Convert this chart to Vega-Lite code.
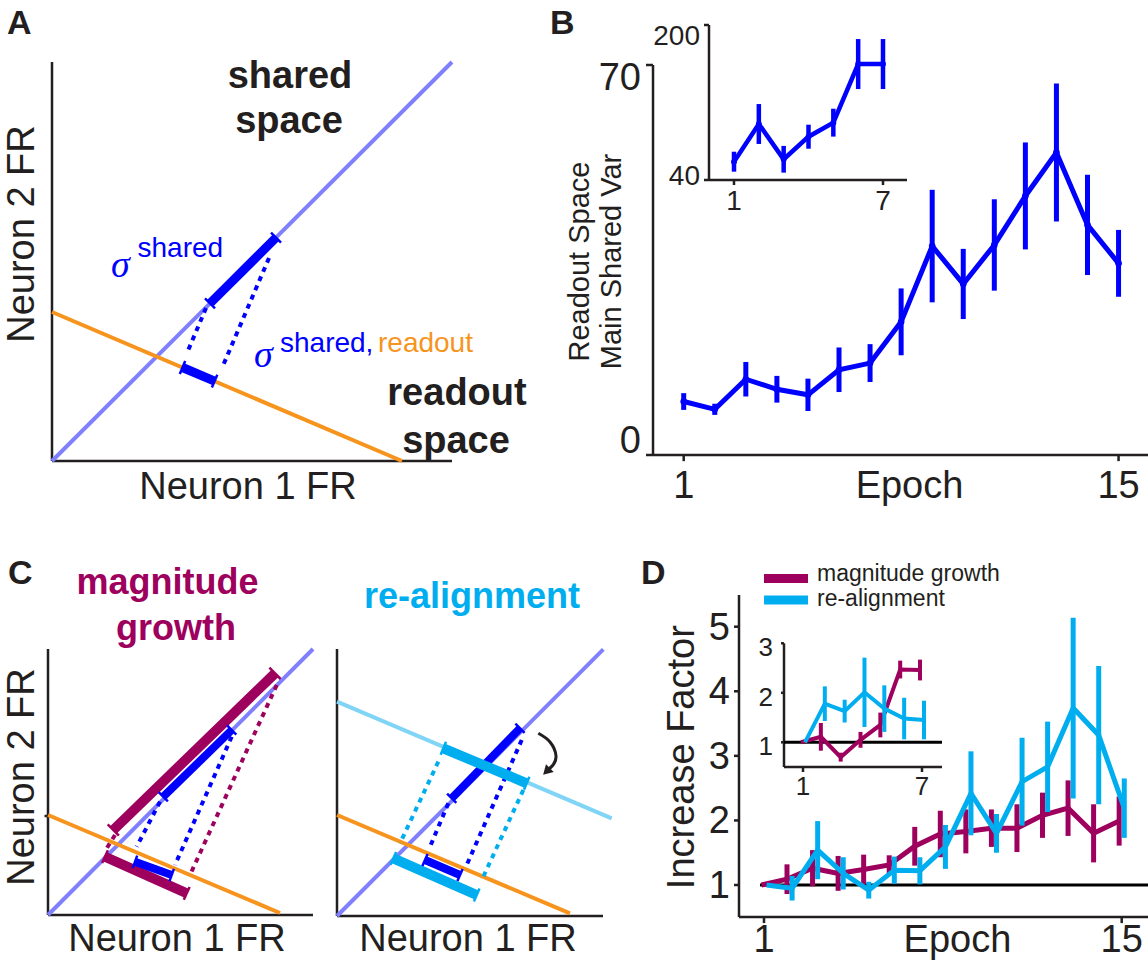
{
"$schema":"https://vega.github.io/schema/vega-lite/v6.json",
"width":1148,"height":960,"padding":0,"autosize":{"type":"none"},"background":"#ffffff",
"config":{"view":{"stroke":null},"text":{"font":"Liberation Sans","color":"#231f20"}},
"resolve":{"scale":{"x":"independent","y":"independent"}},
"datasets":{
"A":[
{"k":"axis","x":0,"y":0,"x2":0,"y2":3.99},
{"k":"axis","x":0,"y":0,"x2":4.0,"y2":0},
{"k":"diag","x":0,"y":0,"x2":4.0,"y2":3.99},
{"k":"orange","x":0,"y":1.49,"x2":3.5,"y2":0},
{"k":"dot","x":1.54,"y":1.53,"x2":1.35,"y2":1.08},
{"k":"dot","x":2.17,"y":2.03,"x2":1.70,"y2":0.93},
{"k":"thick","x":1.58,"y":1.576,"x2":2.24,"y2":2.234},
{"k":"thick","x":1.305,"y":0.935,"x2":1.626,"y2":0.798},
{"k":"cap","x":1.53,"y":1.626,"x2":1.63,"y2":1.526},
{"k":"cap","x":2.19,"y":2.284,"x2":2.29,"y2":2.184},
{"k":"cap","x":1.278,"y":0.871,"x2":1.332,"y2":0.999},
{"k":"cap","x":1.599,"y":0.734,"x2":1.653,"y2":0.862}
],
"A_txt":[
{"k":"bold","t":"shared","x":2.38,"y":3.73},
{"k":"bold","t":"space","x":2.37,"y":3.28},
{"k":"bold","t":"readout","x":4.05,"y":0.56},
{"k":"bold","t":"space","x":4.04,"y":0.08},
{"k":"sigma","t":"σ","x":0.59,"y":1.84},
{"k":"sigma","t":"σ","x":2.02,"y":0.94},
{"k":"supb","t":"shared","x":0.855,"y":2.04},
{"k":"supb","t":"shared,","x":2.28,"y":1.09},
{"k":"supo","t":"readout","x":3.26,"y":1.09},
{"k":"lab","t":"Neuron 1 FR","x":1.96,"y":-0.38},
{"k":"labr","t":"Neuron 2 FR","x":-0.18,"y":2.27},
{"k":"letter","t":"A","x":-0.45,"y":4.27},
{"k":"letter","t":"B","x":4.98,"y":4.27},
{"k":"letter","t":"C","x":-0.44,"y":-1.23},
{"k":"letter","t":"D","x":5.89,"y":-1.23}
],
"C1":[
{"k":"axis","x":0,"y":0,"x2":0,"y2":2.66},
{"k":"axis","x":0,"y":0,"x2":2.65,"y2":0},
{"k":"axis","x":-0.035,"y":0.99,"x2":0,"y2":0.99},
{"k":"diag","x":0,"y":0,"x2":2.65,"y2":2.66},
{"k":"orange","x":0,"y":1.0,"x2":2.32,"y2":0.02},
{"k":"dotm","x":0.67,"y":0.80,"x2":0.587,"y2":0.667},
{"k":"dotm","x":2.287,"y":2.30,"x2":1.42,"y2":0.40},
{"k":"dotb","x":1.12,"y":1.133,"x2":0.887,"y2":0.683},
{"k":"dotb","x":1.837,"y":1.783,"x2":1.27,"y2":0.50},
{"k":"mar","x":0.653,"y":0.85,"x2":2.27,"y2":2.417},
{"k":"mar","x":0.57,"y":0.583,"x2":1.387,"y2":0.217},
{"k":"blu","x":1.153,"y":1.183,"x2":1.837,"y2":1.85},
{"k":"blu","x":0.87,"y":0.533,"x2":1.237,"y2":0.40},
{"k":"capm","x":0.597,"y":0.907,"x2":0.709,"y2":0.793},
{"k":"capm","x":2.214,"y":2.474,"x2":2.326,"y2":2.36},
{"k":"capm","x":0.541,"y":0.519,"x2":0.599,"y2":0.647},
{"k":"capm","x":1.358,"y":0.153,"x2":1.416,"y2":0.281},
{"k":"capb","x":1.107,"y":1.229,"x2":1.199,"y2":1.137},
{"k":"capb","x":1.791,"y":1.896,"x2":1.883,"y2":1.804},
{"k":"capb","x":0.848,"y":0.472,"x2":0.892,"y2":0.594},
{"k":"capb","x":1.215,"y":0.339,"x2":1.259,"y2":0.461}
],
"C1_txt":[
{"k":"title","t":"magnitude","x":1.195,"y":3.21},
{"k":"title","t":"growth","x":1.28,"y":2.75},
{"k":"lab","t":"Neuron 1 FR","x":1.29,"y":-0.36},
{"k":"labr","t":"Neuron 2 FR","x":-0.14,"y":1.38}
],
"C2":[
{"k":"axis","x":0,"y":0,"x2":0,"y2":2.67},
{"k":"axis","x":0,"y":0,"x2":2.66,"y2":0},
{"k":"diag","x":0,"y":0,"x2":2.663,"y2":2.667},
{"k":"orange","x":0,"y":1.01,"x2":2.33,"y2":0.027},
{"k":"light","x":0,"y":2.143,"x2":2.747,"y2":0.977},
{"k":"dotc","x":1.013,"y":1.543,"x2":0.63,"y2":0.727},
{"k":"dotc","x":1.863,"y":1.26,"x2":1.463,"y2":0.393},
{"k":"dotb","x":1.113,"y":1.127,"x2":0.93,"y2":0.693},
{"k":"dotb","x":1.847,"y":1.76,"x2":1.297,"y2":0.51},
{"k":"blu1","x":1.147,"y":1.177,"x2":1.83,"y2":1.877},
{"k":"cya","x":1.063,"y":1.677,"x2":1.897,"y2":1.327},
{"k":"cya","x":0.563,"y":0.577,"x2":1.397,"y2":0.21},
{"k":"blu2","x":0.88,"y":0.56,"x2":1.23,"y2":0.41},
{"k":"capc","x":1.036,"y":1.612,"x2":1.09,"y2":1.742},
{"k":"capc","x":1.87,"y":1.262,"x2":1.924,"y2":1.392},
{"k":"capc","x":0.535,"y":0.513,"x2":0.591,"y2":0.641},
{"k":"capc","x":1.369,"y":0.146,"x2":1.425,"y2":0.274},
{"k":"capb","x":1.101,"y":1.223,"x2":1.193,"y2":1.131},
{"k":"capb","x":1.784,"y":1.923,"x2":1.876,"y2":1.831},
{"k":"capb","x":0.854,"y":0.5,"x2":0.906,"y2":0.62},
{"k":"capb","x":1.204,"y":0.35,"x2":1.256,"y2":0.47}
],
"C2_txt":[
{"k":"title","t":"re-alignment","x":1.35,"y":3.08},
{"k":"lab","t":"Neuron 1 FR","x":1.31,"y":-0.35}
],
"C2_arrow":[
{"o":1,"x":2.013,"y":1.827},
{"o":2,"x":2.13,"y":1.74},
{"o":3,"x":2.19,"y":1.60},
{"o":4,"x":2.16,"y":1.51},
{"o":5,"x":2.12,"y":1.47}
],
"B":[
{"epoch":1,"v":9.6,"e":1.5},{"epoch":2,"v":8.2,"e":1.0},{"epoch":3,"v":13.6,"e":3.1},
{"epoch":4,"v":11.8,"e":2.4},{"epoch":5,"v":10.8,"e":2.9},{"epoch":6,"v":15.3,"e":4.0},
{"epoch":7,"v":16.5,"e":3.4},{"epoch":8,"v":23.9,"e":6.0},{"epoch":9,"v":37.5,"e":10.1},
{"epoch":10,"v":30.7,"e":6.3},{"epoch":11,"v":37.7,"e":8.2},{"epoch":12,"v":46.5,"e":9.6},
{"epoch":13,"v":54.3,"e":12.4},{"epoch":14,"v":41.3,"e":9.0},{"epoch":15,"v":34.4,"e":6.0}
],
"B_ax":[
{"epoch":0.012,"v":0,"epoch2":0.012,"v2":70},
{"epoch":0.012,"v":0,"epoch2":15.948,"v2":0},
{"epoch":-0.214,"v":0,"epoch2":0.012,"v2":0},
{"epoch":-0.214,"v":70,"epoch2":0.012,"v2":70},
{"epoch":1,"v":0,"epoch2":1,"v2":-1.1},
{"epoch":15,"v":0,"epoch2":15,"v2":-1.1}
],
"B_lab":[
{"k":"yl","epoch":-0.375,"v":65.5,"label":"70"},
{"k":"yl","epoch":-0.375,"v":0.3,"label":"0"},
{"k":"xl","epoch":1,"v":-7.72,"label":"1"},
{"k":"xl","epoch":15,"v":-7.72,"label":"15"},
{"k":"xl","epoch":8.27,"v":-7.72,"label":"Epoch"},
{"k":"yt","epoch":-2.049,"v":34.73,"label":"Readout Space"},
{"k":"yt","epoch":-1.019,"v":34.73,"label":"Main Shared Var"}
],
"Bin":[
{"epoch":1,"v":58.9,"e":10.3},{"epoch":2,"v":97.8,"e":20.6},{"epoch":3,"v":61.4,"e":13.8},
{"epoch":4,"v":84.7,"e":12.4},{"epoch":5,"v":99.2,"e":14.4},{"epoch":6,"v":159.7,"e":25.8},
{"epoch":7,"v":159.7,"e":25.8}
],
"Bin_ax":[
{"epoch":-0.007,"v":40,"epoch2":-0.007,"v2":200},
{"epoch":-0.007,"v":40,"epoch2":7.966,"v2":40},
{"epoch":-0.208,"v":40,"epoch2":-0.007,"v2":40},
{"epoch":-0.208,"v":200,"epoch2":-0.007,"v2":200},
{"epoch":1,"v":40,"epoch2":1,"v2":34.8},
{"epoch":7,"v":40,"epoch2":7,"v2":34.8}
],
"Bin_lab":[
{"k":"yl","epoch":-0.37,"v":179.4,"label":"200"},
{"k":"yl","epoch":-0.37,"v":34.8,"label":"40"},
{"k":"xl","epoch":1,"v":9.0,"label":"1"},
{"k":"xl","epoch":7,"v":9.0,"label":"7"}
],
"D":[
{"epoch":1,"s":"magnitude growth","v":1.0,"e":0},{"epoch":2,"s":"magnitude growth","v":1.09,"e":0.23},
{"epoch":3,"s":"magnitude growth","v":1.26,"e":0.28},{"epoch":4,"s":"magnitude growth","v":1.18,"e":0.27},
{"epoch":5,"s":"magnitude growth","v":1.24,"e":0.23},{"epoch":6,"s":"magnitude growth","v":1.31,"e":0.15},
{"epoch":7,"s":"magnitude growth","v":1.60,"e":0.30},{"epoch":8,"s":"magnitude growth","v":1.79,"e":0.36},
{"epoch":9,"s":"magnitude growth","v":1.83,"e":0.34},{"epoch":10,"s":"magnitude growth","v":1.88,"e":0.29},
{"epoch":11,"s":"magnitude growth","v":1.88,"e":0.37},{"epoch":12,"s":"magnitude growth","v":2.08,"e":0.35},
{"epoch":13,"s":"magnitude growth","v":2.19,"e":0.43},{"epoch":14,"s":"magnitude growth","v":1.80,"e":0.45},
{"epoch":15,"s":"magnitude growth","v":1.99,"e":0.38},
{"epoch":1,"s":"re-alignment","v":1.0,"e":0},{"epoch":2,"s":"re-alignment","v":0.95,"e":0.19},
{"epoch":3,"s":"re-alignment","v":1.54,"e":0.45},{"epoch":4,"s":"re-alignment","v":1.18,"e":0.25},
{"epoch":5,"s":"re-alignment","v":0.92,"e":0.13},{"epoch":6,"s":"re-alignment","v":1.23,"e":0.21},
{"epoch":7,"s":"re-alignment","v":1.22,"e":0.21},{"epoch":8,"s":"re-alignment","v":1.59,"e":0.34},
{"epoch":9,"s":"re-alignment","v":2.42,"e":0.65},{"epoch":10,"s":"re-alignment","v":1.80,"e":0.30},
{"epoch":11,"s":"re-alignment","v":2.60,"e":0.68},{"epoch":12,"s":"re-alignment","v":2.83,"e":0.70},
{"epoch":13,"s":"re-alignment","v":3.74,"e":1.40},{"epoch":14,"s":"re-alignment","v":3.32,"e":1.07},
{"epoch":15,"s":"re-alignment","v":2.19,"e":0.46}
],
"D_ax":[
{"k":"ax","ex":0.0215,"v":0.504,"ex2":0.0215,"v2":5.491},
{"k":"ax","ex":0.0215,"v":0.504,"ex2":16.029,"v2":0.504},
{"k":"ax","ex":-0.174,"v":1,"ex2":0.0215,"v2":1},
{"k":"ax","ex":-0.174,"v":2,"ex2":0.0215,"v2":2},
{"k":"ax","ex":-0.174,"v":3,"ex2":0.0215,"v2":3},
{"k":"ax","ex":-0.174,"v":4,"ex2":0.0215,"v2":4},
{"k":"ax","ex":-0.174,"v":5,"ex2":0.0215,"v2":5},
{"k":"ax","ex":1,"v":0.504,"ex2":1,"v2":0.41},
{"k":"ax","ex":15,"v":0.504,"ex2":15,"v2":0.41},
{"k":"ref","ex":0.843,"v":1,"ex2":16.029,"v2":1},
{"k":"legm","ex":1.0,"v":5.746,"ex2":2.722,"v2":5.746},
{"k":"legr","ex":1.0,"v":5.413,"ex2":2.722,"v2":5.413}
],
"D_lab":[
{"k":"yl","ex":-0.331,"v":1,"label":"1"},
{"k":"yl","ex":-0.331,"v":2,"label":"2"},
{"k":"yl","ex":-0.331,"v":3,"label":"3"},
{"k":"yl","ex":-0.331,"v":4,"label":"4"},
{"k":"yl","ex":-0.331,"v":5,"label":"5"},
{"k":"xl","ex":1,"v":-0.0375,"label":"1"},
{"k":"xl","ex":15,"v":-0.0375,"label":"15"},
{"k":"xl","ex":8.57,"v":-0.0375,"label":"Epoch"},
{"k":"yt","ex":-1.74,"v":2.98,"label":"Increase Factor"},
{"k":"leg","ex":3.074,"v":5.70,"label":"magnitude growth"},
{"k":"leg","ex":3.074,"v":5.328,"label":"re-alignment"}
],
"Din":[
{"epoch":1,"s":"magnitude growth","v":1.0,"e":0},{"epoch":2,"s":"magnitude growth","v":1.11,"e":0.28},
{"epoch":3,"s":"magnitude growth","v":0.70,"e":0.09},{"epoch":4,"s":"magnitude growth","v":1.05,"e":0.16},
{"epoch":5,"s":"magnitude growth","v":1.35,"e":0.25},{"epoch":6,"s":"magnitude growth","v":2.47,"e":0.18},
{"epoch":7,"s":"magnitude growth","v":2.46,"e":0.21},
{"epoch":1,"s":"re-alignment","v":1.0,"e":0},{"epoch":2,"s":"re-alignment","v":1.78,"e":0.35},
{"epoch":3,"s":"re-alignment","v":1.63,"e":0.23},{"epoch":4,"s":"re-alignment","v":2.01,"e":0.70},
{"epoch":5,"s":"re-alignment","v":1.68,"e":0.47},{"epoch":6,"s":"re-alignment","v":1.48,"e":0.42},
{"epoch":7,"s":"re-alignment","v":1.45,"e":0.39}
],
"Din_ax":[
{"k":"ax","ex":0.042,"v":0.5,"ex2":0.042,"v2":3.0},
{"k":"ax","ex":0.042,"v":0.5,"ex2":8.008,"v2":0.5},
{"k":"ax","ex":-0.109,"v":1,"ex2":0.042,"v2":1},
{"k":"ax","ex":-0.109,"v":2,"ex2":0.042,"v2":2},
{"k":"ax","ex":-0.109,"v":3,"ex2":0.042,"v2":3},
{"k":"ax","ex":1,"v":0.5,"ex2":1,"v2":0.4},
{"k":"ax","ex":7,"v":0.5,"ex2":7,"v2":0.4},
{"k":"ref","ex":0.042,"v":1,"ex2":8.008,"v2":1}
],
"Din_lab":[
{"k":"yl","ex":-0.513,"v":1,"label":"1"},
{"k":"yl","ex":-0.513,"v":2,"label":"2"},
{"k":"yl","ex":-0.513,"v":3,"label":"3"},
{"k":"xl","ex":1,"v":-0.065,"label":"1"},
{"k":"xl","ex":7,"v":-0.065,"label":"7"}
]
},
"layer":[
{
"encoding":{
"x":{"field":"x","type":"quantitative","scale":{"domain":[-0.52,10.96],"nice":false,"zero":false},"axis":null},
"y":{"field":"y","type":"quantitative","scale":{"domain":[-4.99,4.61],"nice":false,"zero":false},"axis":null}
},
"layer":[
{"data":{"name":"A"},"transform":[{"filter":"datum.k==='axis'"}],"mark":{"type":"rule","color":"#231f20","strokeWidth":2.5},"encoding":{"x2":{"field":"x2"},"y2":{"field":"y2"}}},
{"data":{"name":"A"},"transform":[{"filter":"datum.k==='diag'"}],"mark":{"type":"rule","color":"#8080ff","strokeWidth":4},"encoding":{"x2":{"field":"x2"},"y2":{"field":"y2"}}},
{"data":{"name":"A"},"transform":[{"filter":"datum.k==='orange'"}],"mark":{"type":"rule","color":"#f7941d","strokeWidth":4},"encoding":{"x2":{"field":"x2"},"y2":{"field":"y2"}}},
{"data":{"name":"A"},"transform":[{"filter":"datum.k==='dot'"}],"mark":{"type":"rule","color":"#0000ff","strokeWidth":4,"strokeDash":[5,5]},"encoding":{"x2":{"field":"x2"},"y2":{"field":"y2"}}},
{"data":{"name":"A"},"transform":[{"filter":"datum.k==='thick'"}],"mark":{"type":"rule","color":"#0000ff","strokeWidth":9},"encoding":{"x2":{"field":"x2"},"y2":{"field":"y2"}}},
{"data":{"name":"A"},"transform":[{"filter":"datum.k==='cap'"}],"mark":{"type":"rule","color":"#0000ff","strokeWidth":2.5},"encoding":{"x2":{"field":"x2"},"y2":{"field":"y2"}}},
{"data":{"name":"A_txt"},"transform":[{"filter":"datum.k==='bold'"}],"mark":{"type":"text","fontSize":38,"fontWeight":"bold","align":"center","baseline":"alphabetic","color":"#231f20"},"encoding":{"text":{"field":"t"}}},
{"data":{"name":"A_txt"},"transform":[{"filter":"datum.k==='sigma'"}],"mark":{"type":"text","fontSize":38,"font":"Liberation Serif","fontStyle":"italic","align":"left","baseline":"alphabetic","color":"#0000ff"},"encoding":{"text":{"field":"t"}}},
{"data":{"name":"A_txt"},"transform":[{"filter":"datum.k==='supb'"}],"mark":{"type":"text","fontSize":28,"align":"left","baseline":"alphabetic","color":"#0000ff"},"encoding":{"text":{"field":"t"}}},
{"data":{"name":"A_txt"},"transform":[{"filter":"datum.k==='supo'"}],"mark":{"type":"text","fontSize":28,"align":"left","baseline":"alphabetic","color":"#f7941d"},"encoding":{"text":{"field":"t"}}},
{"data":{"name":"A_txt"},"transform":[{"filter":"datum.k==='lab'"}],"mark":{"type":"text","fontSize":38,"align":"center","baseline":"alphabetic","color":"#231f20"},"encoding":{"text":{"field":"t"}}},
{"data":{"name":"A_txt"},"transform":[{"filter":"datum.k==='labr'"}],"mark":{"type":"text","fontSize":38,"align":"center","baseline":"alphabetic","angle":270,"color":"#231f20"},"encoding":{"text":{"field":"t"}}},
{"data":{"name":"A_txt"},"transform":[{"filter":"datum.k==='letter'"}],"mark":{"type":"text","fontSize":34,"fontWeight":"bold","align":"left","baseline":"alphabetic","color":"#231f20"},"encoding":{"text":{"field":"t"}}}
]
},
{
"encoding":{
"x":{"field":"x","type":"quantitative","scale":{"domain":[-0.48,11.0],"nice":false,"zero":false},"axis":null},
"y":{"field":"y","type":"quantitative","scale":{"domain":[-0.45,9.15],"nice":false,"zero":false},"axis":null}
},
"layer":[
{"data":{"name":"C1"},"transform":[{"filter":"datum.k==='axis'"}],"mark":{"type":"rule","color":"#231f20","strokeWidth":2.5},"encoding":{"x2":{"field":"x2"},"y2":{"field":"y2"}}},
{"data":{"name":"C1"},"transform":[{"filter":"datum.k==='diag'"}],"mark":{"type":"rule","color":"#8080ff","strokeWidth":4},"encoding":{"x2":{"field":"x2"},"y2":{"field":"y2"}}},
{"data":{"name":"C1"},"transform":[{"filter":"datum.k==='orange'"}],"mark":{"type":"rule","color":"#f7941d","strokeWidth":4},"encoding":{"x2":{"field":"x2"},"y2":{"field":"y2"}}},
{"data":{"name":"C1"},"transform":[{"filter":"datum.k==='dotm'"}],"mark":{"type":"rule","color":"#9e005d","strokeWidth":4,"strokeDash":[5,5]},"encoding":{"x2":{"field":"x2"},"y2":{"field":"y2"}}},
{"data":{"name":"C1"},"transform":[{"filter":"datum.k==='dotb'"}],"mark":{"type":"rule","color":"#0000ff","strokeWidth":4,"strokeDash":[5,5]},"encoding":{"x2":{"field":"x2"},"y2":{"field":"y2"}}},
{"data":{"name":"C1"},"transform":[{"filter":"datum.k==='mar'"}],"mark":{"type":"rule","color":"#9e005d","strokeWidth":10},"encoding":{"x2":{"field":"x2"},"y2":{"field":"y2"}}},
{"data":{"name":"C1"},"transform":[{"filter":"datum.k==='blu'"}],"mark":{"type":"rule","color":"#0000ff","strokeWidth":8},"encoding":{"x2":{"field":"x2"},"y2":{"field":"y2"}}},
{"data":{"name":"C1"},"transform":[{"filter":"datum.k==='capm'"}],"mark":{"type":"rule","color":"#9e005d","strokeWidth":2.5},"encoding":{"x2":{"field":"x2"},"y2":{"field":"y2"}}},
{"data":{"name":"C1"},"transform":[{"filter":"datum.k==='capb'"}],"mark":{"type":"rule","color":"#0000ff","strokeWidth":2.5},"encoding":{"x2":{"field":"x2"},"y2":{"field":"y2"}}},
{"data":{"name":"C1_txt"},"transform":[{"filter":"datum.k==='title'"}],"mark":{"type":"text","fontSize":36,"fontWeight":"bold","align":"center","baseline":"alphabetic","color":"#9e005d"},"encoding":{"text":{"field":"t"}}},
{"data":{"name":"C1_txt"},"transform":[{"filter":"datum.k==='lab'"}],"mark":{"type":"text","fontSize":38,"align":"center","baseline":"alphabetic","color":"#231f20"},"encoding":{"text":{"field":"t"}}},
{"data":{"name":"C1_txt"},"transform":[{"filter":"datum.k==='labr'"}],"mark":{"type":"text","fontSize":38,"align":"center","baseline":"alphabetic","angle":270,"color":"#231f20"},"encoding":{"text":{"field":"t"}}}
]
},
{
"encoding":{
"x":{"field":"x","type":"quantitative","scale":{"domain":[-3.37,8.11],"nice":false,"zero":false},"axis":null},
"y":{"field":"y","type":"quantitative","scale":{"domain":[-0.44,9.16],"nice":false,"zero":false},"axis":null}
},
"layer":[
{"data":{"name":"C2"},"transform":[{"filter":"datum.k==='axis'"}],"mark":{"type":"rule","color":"#231f20","strokeWidth":2.5},"encoding":{"x2":{"field":"x2"},"y2":{"field":"y2"}}},
{"data":{"name":"C2"},"transform":[{"filter":"datum.k==='diag'"}],"mark":{"type":"rule","color":"#8080ff","strokeWidth":4},"encoding":{"x2":{"field":"x2"},"y2":{"field":"y2"}}},
{"data":{"name":"C2"},"transform":[{"filter":"datum.k==='orange'"}],"mark":{"type":"rule","color":"#f7941d","strokeWidth":4},"encoding":{"x2":{"field":"x2"},"y2":{"field":"y2"}}},
{"data":{"name":"C2"},"transform":[{"filter":"datum.k==='light'"}],"mark":{"type":"rule","color":"#80d4f6","strokeWidth":4},"encoding":{"x2":{"field":"x2"},"y2":{"field":"y2"}}},
{"data":{"name":"C2"},"transform":[{"filter":"datum.k==='dotc'"}],"mark":{"type":"rule","color":"#00aeef","strokeWidth":4,"strokeDash":[5,5]},"encoding":{"x2":{"field":"x2"},"y2":{"field":"y2"}}},
{"data":{"name":"C2"},"transform":[{"filter":"datum.k==='dotb'"}],"mark":{"type":"rule","color":"#0000ff","strokeWidth":4,"strokeDash":[5,5]},"encoding":{"x2":{"field":"x2"},"y2":{"field":"y2"}}},
{"data":{"name":"C2"},"transform":[{"filter":"datum.k==='blu1'"}],"mark":{"type":"rule","color":"#0000ff","strokeWidth":8},"encoding":{"x2":{"field":"x2"},"y2":{"field":"y2"}}},
{"data":{"name":"C2"},"transform":[{"filter":"datum.k==='cya'"}],"mark":{"type":"rule","color":"#00aeef","strokeWidth":10},"encoding":{"x2":{"field":"x2"},"y2":{"field":"y2"}}},
{"data":{"name":"C2"},"transform":[{"filter":"datum.k==='blu2'"}],"mark":{"type":"rule","color":"#0000ff","strokeWidth":8},"encoding":{"x2":{"field":"x2"},"y2":{"field":"y2"}}},
{"data":{"name":"C2"},"transform":[{"filter":"datum.k==='capc'"}],"mark":{"type":"rule","color":"#00aeef","strokeWidth":2.5},"encoding":{"x2":{"field":"x2"},"y2":{"field":"y2"}}},
{"data":{"name":"C2"},"transform":[{"filter":"datum.k==='capb'"}],"mark":{"type":"rule","color":"#0000ff","strokeWidth":2.5},"encoding":{"x2":{"field":"x2"},"y2":{"field":"y2"}}},
{"data":{"name":"C2_arrow"},"mark":{"type":"line","color":"#231f20","strokeWidth":3,"interpolate":"natural"},"encoding":{"order":{"field":"o","type":"quantitative"}}},
{"data":{"values":[{"x":2.095,"y":1.445}]},"mark":{"type":"point","shape":"triangle-down","filled":true,"size":120,"angle":45,"color":"#231f20","opacity":1}},
{"data":{"name":"C2_txt"},"transform":[{"filter":"datum.k==='title'"}],"mark":{"type":"text","fontSize":36,"fontWeight":"bold","align":"center","baseline":"alphabetic","color":"#00aeef"},"encoding":{"text":{"field":"t"}}},
{"data":{"name":"C2_txt"},"transform":[{"filter":"datum.k==='lab'"}],"mark":{"type":"text","fontSize":38,"align":"center","baseline":"alphabetic","color":"#231f20"},"encoding":{"text":{"field":"t"}}}
]
},
{
"encoding":{
"x":{"field":"epoch","type":"quantitative","scale":{"domain":[-21.012,15.948],"nice":false,"zero":false},"axis":null},
"y":{"field":"v","type":"quantitative","scale":{"domain":[-90.641,81.667],"nice":false,"zero":false},"axis":null}
},
"layer":[
{"data":{"name":"B_ax"},"mark":{"type":"rule","color":"#231f20","strokeWidth":2.5},"encoding":{"x2":{"field":"epoch2"},"y2":{"field":"v2"}}},
{"data":{"name":"B_lab"},"transform":[{"filter":"datum.k==='yl'"}],"mark":{"type":"text","fontSize":38,"align":"right","baseline":"alphabetic"},"encoding":{"text":{"field":"label"}}},
{"data":{"name":"B_lab"},"transform":[{"filter":"datum.k==='xl'"}],"mark":{"type":"text","fontSize":38,"align":"center","baseline":"alphabetic"},"encoding":{"text":{"field":"label"}}},
{"data":{"name":"B_lab"},"transform":[{"filter":"datum.k==='yt'"}],"mark":{"type":"text","fontSize":29,"align":"center","baseline":"alphabetic","angle":270},"encoding":{"text":{"field":"label"}}},
{"data":{"name":"B"},"mark":{"type":"errorbar","ticks":false,"thickness":5,"color":"#0000ff"},"encoding":{"y":{"field":"v","type":"quantitative"},"yError":{"field":"e"}}},
{"data":{"name":"B"},"mark":{"type":"line","color":"#0000ff","strokeWidth":5}},
{"data":{"name":"B"},"mark":{"type":"point","filled":true,"size":45,"color":"#0000ff","opacity":1}}
]
},
{
"encoding":{
"x":{"field":"epoch","type":"quantitative","scale":{"domain":[-28.557,17.671],"nice":false,"zero":false},"axis":null},
"y":{"field":"v","type":"quantitative","scale":{"domain":[-765.16,225.81],"nice":false,"zero":false},"axis":null}
},
"layer":[
{"data":{"name":"Bin_ax"},"mark":{"type":"rule","color":"#231f20","strokeWidth":2.5},"encoding":{"x2":{"field":"epoch2"},"y2":{"field":"v2"}}},
{"data":{"name":"Bin_lab"},"transform":[{"filter":"datum.k==='yl'"}],"mark":{"type":"text","fontSize":28,"align":"right","baseline":"alphabetic"},"encoding":{"text":{"field":"label"}}},
{"data":{"name":"Bin_lab"},"transform":[{"filter":"datum.k==='xl'"}],"mark":{"type":"text","fontSize":28,"align":"center","baseline":"alphabetic"},"encoding":{"text":{"field":"label"}}},
{"data":{"name":"Bin"},"mark":{"type":"errorbar","ticks":false,"thickness":4.5,"color":"#0000ff"},"encoding":{"y":{"field":"v","type":"quantitative"},"yError":{"field":"e"}}},
{"data":{"name":"Bin"},"mark":{"type":"line","color":"#0000ff","strokeWidth":4.5}},
{"data":{"name":"Bin"},"mark":{"type":"point","filled":true,"size":35,"color":"#0000ff","opacity":1}}
]
},
{
"encoding":{
"x":{"field":"ex","type":"quantitative","scale":{"domain":[-28.902,16.029],"nice":false,"zero":false},"axis":null},
"y":{"field":"v","type":"quantitative","scale":{"domain":[-0.1614,14.705],"nice":false,"zero":false},"axis":null}
},
"layer":[
{"data":{"name":"D_ax"},"transform":[{"filter":"datum.k==='ax'"}],"mark":{"type":"rule","color":"#231f20","strokeWidth":2.5},"encoding":{"x2":{"field":"ex2"},"y2":{"field":"v2"}}},
{"data":{"name":"D_ax"},"transform":[{"filter":"datum.k==='ref'"}],"mark":{"type":"rule","color":"#000000","strokeWidth":3},"encoding":{"x2":{"field":"ex2"},"y2":{"field":"v2"}}},
{"data":{"name":"D_ax"},"transform":[{"filter":"datum.k==='legm'"}],"mark":{"type":"rule","color":"#9e005d","strokeWidth":9},"encoding":{"x2":{"field":"ex2"},"y2":{"field":"v2"}}},
{"data":{"name":"D_ax"},"transform":[{"filter":"datum.k==='legr'"}],"mark":{"type":"rule","color":"#00aeef","strokeWidth":9},"encoding":{"x2":{"field":"ex2"},"y2":{"field":"v2"}}},
{"data":{"name":"D_lab"},"transform":[{"filter":"datum.k==='yl'"}],"mark":{"type":"text","fontSize":38,"align":"right","baseline":"alphabetic","dy":13},"encoding":{"text":{"field":"label"}}},
{"data":{"name":"D_lab"},"transform":[{"filter":"datum.k==='xl'"}],"mark":{"type":"text","fontSize":38,"align":"center","baseline":"alphabetic"},"encoding":{"text":{"field":"label"}}},
{"data":{"name":"D_lab"},"transform":[{"filter":"datum.k==='yt'"}],"mark":{"type":"text","fontSize":38,"align":"center","baseline":"alphabetic","angle":270},"encoding":{"text":{"field":"label"}}},
{"data":{"name":"D_lab"},"transform":[{"filter":"datum.k==='leg'"}],"mark":{"type":"text","fontSize":23,"align":"left","baseline":"alphabetic"},"encoding":{"text":{"field":"label"}}},
{"data":{"name":"D"},"transform":[{"filter":"datum.s==='magnitude growth'"},{"calculate":"datum.epoch-0.1","as":"ex"}],"mark":{"type":"errorbar","ticks":false,"thickness":5,"color":"#9e005d"},"encoding":{"y":{"field":"v","type":"quantitative"},"yError":{"field":"e"}}},
{"data":{"name":"D"},"transform":[{"filter":"datum.s==='magnitude growth'"},{"calculate":"datum.epoch-0.1","as":"ex"}],"mark":{"type":"line","color":"#9e005d","strokeWidth":5}},
{"data":{"name":"D"},"transform":[{"filter":"datum.s==='re-alignment'"},{"calculate":"datum.epoch+0.1","as":"ex"}],"mark":{"type":"errorbar","ticks":false,"thickness":5,"color":"#00aeef"},"encoding":{"y":{"field":"v","type":"quantitative"},"yError":{"field":"e"}}},
{"data":{"name":"D"},"transform":[{"filter":"datum.s==='re-alignment'"},{"calculate":"datum.epoch+0.1","as":"ex"}],"mark":{"type":"line","color":"#00aeef","strokeWidth":5}}
]
},
{
"encoding":{
"x":{"field":"ex","type":"quantitative","scale":{"domain":[-39.488,18.395],"nice":false,"zero":false},"axis":null},
"y":{"field":"v","type":"quantitative","scale":{"domain":[-3.398,15.996],"nice":false,"zero":false},"axis":null}
},
"layer":[
{"data":{"name":"Din_ax"},"transform":[{"filter":"datum.k==='ax'"}],"mark":{"type":"rule","color":"#231f20","strokeWidth":2.5},"encoding":{"x2":{"field":"ex2"},"y2":{"field":"v2"}}},
{"data":{"name":"Din_ax"},"transform":[{"filter":"datum.k==='ref'"}],"mark":{"type":"rule","color":"#000000","strokeWidth":3},"encoding":{"x2":{"field":"ex2"},"y2":{"field":"v2"}}},
{"data":{"name":"Din_lab"},"transform":[{"filter":"datum.k==='yl'"}],"mark":{"type":"text","fontSize":26,"align":"right","baseline":"alphabetic","dy":13},"encoding":{"text":{"field":"label"}}},
{"data":{"name":"Din_lab"},"transform":[{"filter":"datum.k==='xl'"}],"mark":{"type":"text","fontSize":26,"align":"center","baseline":"alphabetic"},"encoding":{"text":{"field":"label"}}},
{"data":{"name":"Din"},"transform":[{"filter":"datum.s==='magnitude growth'"},{"calculate":"datum.epoch-0.1","as":"ex"}],"mark":{"type":"errorbar","ticks":false,"thickness":4,"color":"#9e005d"},"encoding":{"y":{"field":"v","type":"quantitative"},"yError":{"field":"e"}}},
{"data":{"name":"Din"},"transform":[{"filter":"datum.s==='magnitude growth'"},{"calculate":"datum.epoch-0.1","as":"ex"}],"mark":{"type":"line","color":"#9e005d","strokeWidth":4}},
{"data":{"name":"Din"},"transform":[{"filter":"datum.s==='re-alignment'"},{"calculate":"datum.epoch+0.1","as":"ex"}],"mark":{"type":"errorbar","ticks":false,"thickness":4,"color":"#00aeef"},"encoding":{"y":{"field":"v","type":"quantitative"},"yError":{"field":"e"}}},
{"data":{"name":"Din"},"transform":[{"filter":"datum.s==='re-alignment'"},{"calculate":"datum.epoch+0.1","as":"ex"}],"mark":{"type":"line","color":"#00aeef","strokeWidth":4}}
]
}
]
}
